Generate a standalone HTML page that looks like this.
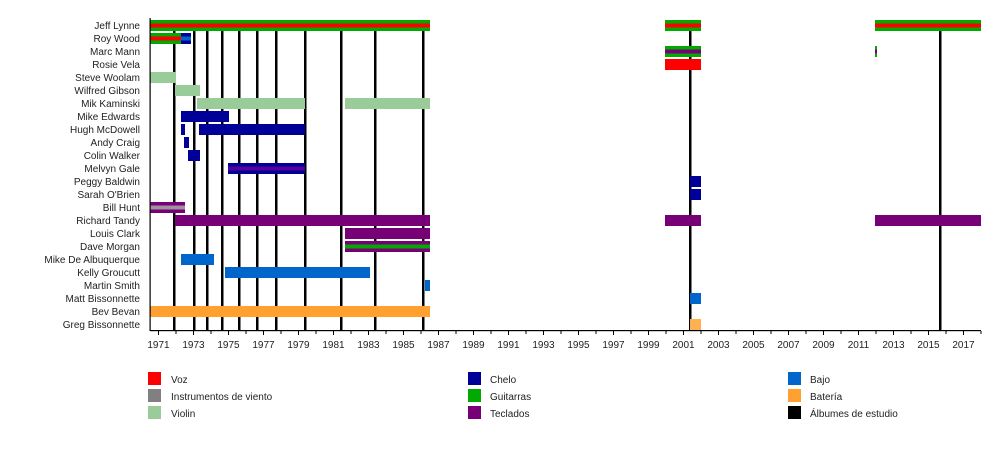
<!DOCTYPE html>
<html><head><meta charset="utf-8"><style>
html,body{margin:0;padding:0;background:#fff;width:1000px;height:450px;overflow:hidden}
text{font-family:"Liberation Sans",sans-serif;font-size:10px;fill:#222}
</style></head><body>
<svg width="1000" height="450" xmlns="http://www.w3.org/2000/svg">
<g text-anchor="end">
<text x="140" y="29">Jeff Lynne</text>
<text x="140" y="42">Roy Wood</text>
<text x="140" y="55">Marc Mann</text>
<text x="140" y="68">Rosie Vela</text>
<text x="140" y="81">Steve Woolam</text>
<text x="140" y="94">Wilfred Gibson</text>
<text x="140" y="107">Mik Kaminski</text>
<text x="140" y="120">Mike Edwards</text>
<text x="140" y="133">Hugh McDowell</text>
<text x="140" y="146">Andy Craig</text>
<text x="140" y="159">Colin Walker</text>
<text x="140" y="172">Melvyn Gale</text>
<text x="140" y="185">Peggy Baldwin</text>
<text x="140" y="198">Sarah O'Brien</text>
<text x="140" y="211">Bill Hunt</text>
<text x="140" y="224">Richard Tandy</text>
<text x="140" y="237">Louis Clark</text>
<text x="140" y="250">Dave Morgan</text>
<text x="140" y="263">Mike De Albuquerque</text>
<text x="140" y="276">Kelly Groucutt</text>
<text x="140" y="289">Martin Smith</text>
<text x="140" y="302">Matt Bissonnette</text>
<text x="140" y="315">Bev Bevan</text>
<text x="140" y="328">Greg Bissonnette</text>
</g>
<!-- album lines -->
<g fill="#000">
<rect x="173" y="30" width="2.5" height="300"/>
<rect x="193" y="30" width="2.5" height="300"/>
<rect x="206" y="30" width="2.5" height="300"/>
<rect x="221" y="30" width="2.5" height="300"/>
<rect x="238" y="30" width="2.5" height="300"/>
<rect x="256" y="30" width="2.5" height="300"/>
<rect x="275" y="30" width="2.5" height="300"/>
<rect x="304" y="30" width="2.5" height="300"/>
<rect x="340" y="30" width="2.5" height="300"/>
<rect x="374" y="30" width="2.5" height="300"/>
<rect x="422" y="30" width="2.5" height="300"/>
<rect x="689" y="30" width="2.5" height="300"/>
<rect x="939" y="30" width="2.5" height="300"/>
</g>
<!-- bars -->
<g>
<!-- Jeff -->
<rect x="150" y="20" width="280" height="11" fill="#00aa00"/><rect x="150" y="23.5" width="280" height="4" fill="#ff0000"/>
<rect x="665" y="20" width="36" height="11" fill="#00aa00"/><rect x="665" y="23.5" width="36" height="4" fill="#ff0000"/>
<rect x="875" y="20" width="106" height="11" fill="#00aa00"/><rect x="875" y="23.5" width="106" height="4" fill="#ff0000"/>
<!-- Roy -->
<rect x="150" y="33" width="32" height="11" fill="#00aa00"/><rect x="150" y="36.5" width="32" height="4" fill="#ff0000"/>
<rect x="181" y="33" width="10" height="11" fill="#000099"/><rect x="181" y="36.5" width="10" height="4" fill="#0066cc"/>
<!-- Marc -->
<rect x="665" y="46" width="36" height="11" fill="#00aa00"/><rect x="665" y="49.5" width="36" height="4" fill="#770077"/>
<rect x="875" y="46" width="2" height="11" fill="#00aa00"/><rect x="875" y="49.5" width="2" height="4" fill="#770077"/>
<!-- Rosie -->
<rect x="665" y="59" width="36" height="11" fill="#ff0000"/>
<!-- violins -->
<rect x="150" y="72" width="26" height="11" fill="#99cc99"/>
<rect x="175" y="85" width="25" height="11" fill="#99cc99"/>
<rect x="197" y="98" width="108" height="11" fill="#99cc99"/>
<rect x="345" y="98" width="85" height="11" fill="#99cc99"/>
<!-- cellos -->
<rect x="181" y="111" width="48" height="11" fill="#000099"/>
<rect x="181" y="124" width="4" height="11" fill="#000099"/>
<rect x="199" y="124" width="106" height="11" fill="#000099"/>
<rect x="184" y="137" width="5" height="11" fill="#000099"/>
<rect x="188" y="150" width="12" height="11" fill="#000099"/>
<rect x="228" y="163" width="77" height="11" fill="#000099"/><rect x="228" y="166.5" width="77" height="4" fill="#550099"/>
<rect x="690" y="176" width="11" height="11" fill="#000099"/>
<rect x="690" y="189" width="11" height="11" fill="#000099"/>
<!-- Bill Hunt -->
<rect x="150" y="202" width="35" height="11" fill="#770077"/><rect x="150" y="205.5" width="35" height="4" fill="#a090a0"/>
<!-- Tandy -->
<rect x="175" y="215" width="255" height="11" fill="#770077"/>
<rect x="665" y="215" width="36" height="11" fill="#770077"/>
<rect x="875" y="215" width="106" height="11" fill="#770077"/>
<rect x="345" y="228" width="85" height="11" fill="#770077"/>
<rect x="345" y="241" width="85" height="11" fill="#770077"/><rect x="345" y="244.5" width="85" height="4" fill="#00aa00"/>
<!-- bass -->
<rect x="181" y="254" width="33" height="11" fill="#0066cc"/>
<rect x="225" y="267" width="145" height="11" fill="#0066cc"/>
<rect x="425" y="280" width="5" height="11" fill="#0066cc"/>
<rect x="690" y="293" width="11" height="11" fill="#0066cc"/>
<!-- drums -->
<rect x="150" y="306" width="280" height="11" fill="#ffa030"/>
<rect x="690" y="319" width="11" height="11" fill="#ffb050"/>
</g>
<!-- axes -->
<rect x="149.5" y="18" width="1.2" height="313" fill="#000"/>
<rect x="150" y="330" width="831" height="1.2" fill="#000"/>
<g stroke="#000" stroke-width="1">
<path d="M158.5 331v4M176 331v3M193.5 331v4M211 331v3M228.5 331v4M246 331v3M263.5 331v4M281 331v3M298.5 331v4M316 331v3M333.5 331v4M351 331v3M368.5 331v4M386 331v3M403.5 331v4M421 331v3M438.5 331v4M456 331v3M473.5 331v4M491 331v3M508.5 331v4M526 331v3M543.5 331v4M561 331v3M578.5 331v4M596 331v3M613.5 331v4M631 331v3M648.5 331v4M666 331v3M683.5 331v4M701 331v3M718.5 331v4M736 331v3M753.5 331v4M771 331v3M788.5 331v4M806 331v3M823.5 331v4M841 331v3M858.5 331v4M876 331v3M893.5 331v4M911 331v3M928.5 331v4M946 331v3M963.5 331v4M981 331v3"/>
</g>
<g text-anchor="middle">
<text x="158.5" y="348">1971</text><text x="193.5" y="348">1973</text><text x="228.5" y="348">1975</text><text x="263.5" y="348">1977</text><text x="298.5" y="348">1979</text><text x="333.5" y="348">1981</text><text x="368.5" y="348">1983</text><text x="403.5" y="348">1985</text><text x="438.5" y="348">1987</text><text x="473.5" y="348">1989</text><text x="508.5" y="348">1991</text><text x="543.5" y="348">1993</text><text x="578.5" y="348">1995</text><text x="613.5" y="348">1997</text><text x="648.5" y="348">1999</text><text x="683.5" y="348">2001</text><text x="718.5" y="348">2003</text><text x="753.5" y="348">2005</text><text x="788.5" y="348">2007</text><text x="823.5" y="348">2009</text><text x="858.5" y="348">2011</text><text x="893.5" y="348">2013</text><text x="928.5" y="348">2015</text><text x="963.5" y="348">2017</text>
</g>
<!-- legend -->
<rect x="148" y="372" width="13" height="13" fill="#ff0000"/><text x="171" y="383">Voz</text>
<rect x="148" y="389" width="13" height="13" fill="#808080"/><text x="171" y="400">Instrumentos de viento</text>
<rect x="148" y="406" width="13" height="13" fill="#99cc99"/><text x="171" y="417">Violin</text>
<rect x="468" y="372" width="13" height="13" fill="#000099"/><text x="490" y="383">Chelo</text>
<rect x="468" y="389" width="13" height="13" fill="#00aa00"/><text x="490" y="400">Guitarras</text>
<rect x="468" y="406" width="13" height="13" fill="#770077"/><text x="490" y="417">Teclados</text>
<rect x="788" y="372" width="13" height="13" fill="#0066cc"/><text x="810" y="383">Bajo</text>
<rect x="788" y="389" width="13" height="13" fill="#ffa030"/><text x="810" y="400">Batería</text>
<rect x="788" y="406" width="13" height="13" fill="#000"/><text x="810" y="417">Álbumes de estudio</text>
</svg>
</body></html>
